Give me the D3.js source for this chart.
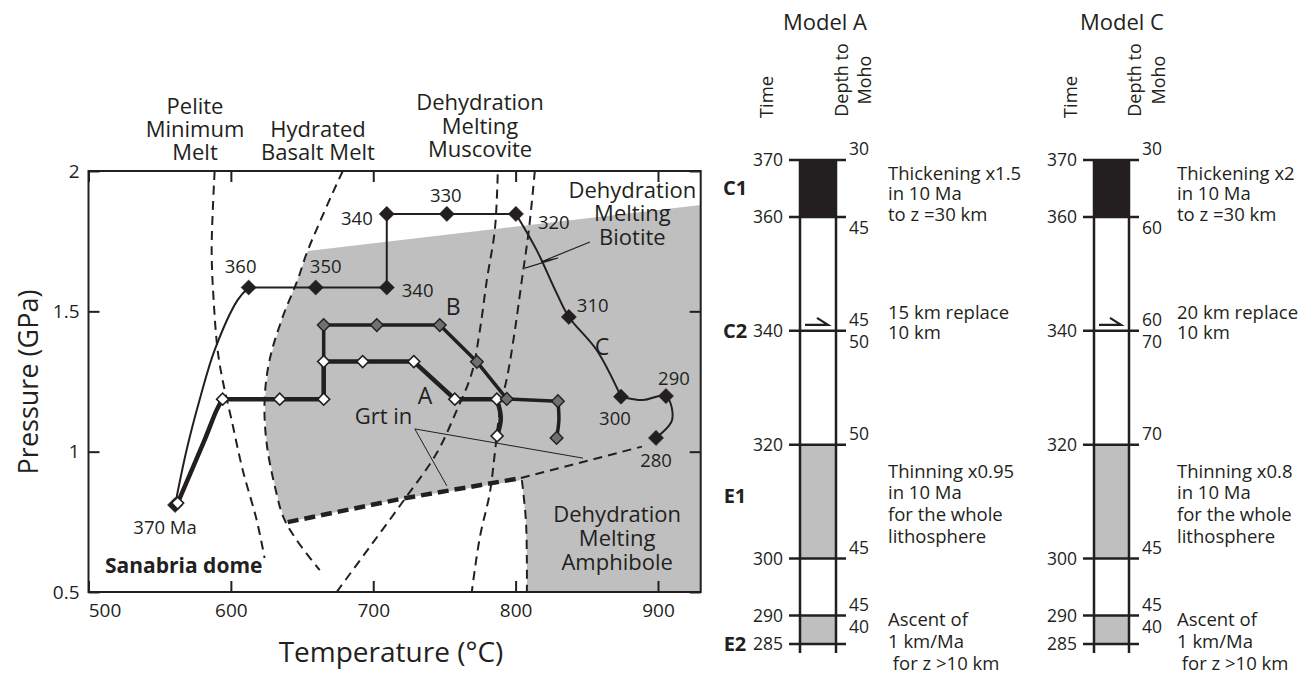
<!DOCTYPE html>
<html><head><meta charset="utf-8">
<script src="https://cdn.jsdelivr.net/npm/d3@7"></script>
<style>body{margin:0;background:#fff;} svg{display:block;font-family:'Open Sans',sans-serif;}</style>
</head><body><svg id="c" width="1316" height="677"></svg>
<script>
// ================= DATA =================
const tempTicks = [500, 600, 700, 800, 900];
const pressTicks = [0.5, 1, 1.5, 2];
const pressTickLabels = ["0.5", "1", "1.5", "2"];

// P-T path C (black diamonds): segments [T °C, P GPa]
const pathC_rise  = [[560.8,0.810],[568.9,1.006],[578.0,1.184],[588.6,1.362],[604.7,1.540],[612.5,1.585]];
const pathC_steps = [[612.5,1.585],[659.6,1.585],[709.5,1.585],[709.5,1.847],[751.7,1.847],[800.2,1.847]];
const pathC_fall  = [[800.2,1.847],[814.7,1.719],[828.8,1.565],[837.4,1.480],[856.9,1.362],[874.0,1.196]];
const pathC_end   = [[874.0,1.196],[889.5,1.184],[905.6,1.198],[909.9,1.113],[898.6,1.049]];
const markersC    = [[560.8,0.810],[612.5,1.585],[659.6,1.585],[709.5,1.585],[709.5,1.847],[751.7,1.847],[800.2,1.847],[837.4,1.480],[874.0,1.196],[905.6,1.198],[898.6,1.049]];
const agesC       = ["370 Ma","360","350","340","340","330","320","310","300","290","280"];

// P-T path A (white diamonds)
const pathA_rise  = [[562.6,0.817],[581.5,1.041],[590.0,1.148],[594.2,1.187]];
const pathA_steps = [[594.2,1.187],[634.3,1.187],[665.2,1.187],[665.2,1.321],[692.6,1.321],[728.5,1.321],[757.3,1.187],[786.8,1.187]];
const pathA_end   = [[786.8,1.187],[789.6,1.120],[787.0,1.056]];
const markersA    = [[562.6,0.817],[594.2,1.187],[634.3,1.187],[665.2,1.187],[665.2,1.321],[692.6,1.321],[728.5,1.321],[757.3,1.187],[786.8,1.187],[787.0,1.056]];

// P-T path B (grey diamonds)
const pathB_steps = [[665.2,1.187],[665.2,1.451],[702.5,1.451],[746.7,1.451],[772.8,1.320],[793.8,1.188],[829.7,1.180]];
const pathB_end   = [[829.7,1.180],[830.4,1.113],[828.8,1.049]];
const markersB    = [[665.2,1.451],[702.5,1.451],[746.7,1.451],[772.8,1.320],[793.8,1.188],[829.7,1.180],[828.8,1.049]];

// reaction curves (dashed)
const pelite    = [[588.6,2.0],[586.5,1.719],[587.9,1.540],[590.7,1.362],[594.2,1.255],[600.5,1.113],[608.3,0.935],[618.1,0.757],[623.7,0.621]];
const basalt    = [[678.6,2.0],[671.5,1.922],[661.0,1.801],[653.3,1.708],[646.9,1.612],[636.4,1.480],[627.2,1.327],[623.7,1.184],[625.1,1.031],[631.5,0.863],[637.1,0.764],[646.2,0.685],[662.4,0.578]];
const muscA     = [[674.3,0.5],[697.5,0.660],[722.1,0.831],[744.6,0.995],[758.7,1.148],[769.2,1.280],[774.9,1.433],[779.8,1.612],[785.4,1.790],[787.5,2.0]];
const muscB     = [[813.5,2.0],[809.3,1.790],[804.4,1.612],[799.5,1.433],[794.6,1.280],[789.0,1.148],[785.4,0.995],[781.9,0.853],[774.9,0.696],[769.2,0.5]];
const amphibole = [[804.4,0.899],[807.2,0.757],[807.9,0.614],[807.9,0.5]];
const grtThick  = [[639.9,0.749],[718.6,0.831],[803.7,0.906]];
const grtThin   = [[803.7,0.906],[888.7,1.018]];
const grtLeader = [[751.7,0.878],[729.2,1.081],[847.3,0.977]];
const biotiteBolt = [[852.2,1.747],[817.8,1.676],[829.7,1.690],[806.5,1.654]];
// melting field (grey)
const meltZone = [[654.0,1.715],[930,1.879],[930,0.5],[807.9,0.5],[807.9,0.614],[807.2,0.757],[804.4,0.899],[718.6,0.831],[639.9,0.749],[637.1,0.764],[631.5,0.863],[625.1,1.031],[623.7,1.184],[627.2,1.327],[636.4,1.480],[646.9,1.612]];

// Models (right panels)
const timeTicks = [370, 360, 340, 320, 300, 290, 285];
const blackStages = [[370, 360]];
const greyStages = [[320, 300], [290, 285]];
const phaseNames = ["C1", "C2", "E1", "E2"];
const phaseTimes = [365, 340, 311, 285];
const depthA = [[370,"30",-1],[360,"45",1],[340,"45",-1],[340,"50",1],[320,"50",-1],[300,"45",-1],[290,"45",-1],[290,"40",1]];
const depthC = [[370,"30",-1],[360,"60",1],[340,"60",-1],[340,"70",1],[320,"70",-1],[300,"45",-1],[290,"45",-1],[290,"40",1]];
const noteTimes = [366.5, 342.0, 314.2, 288.1];
const notesA = [["Thickening x1.5","in 10 Ma","to z =30 km"],["15 km replace","10 km"],["Thinning x0.95","in 10 Ma","for the whole","lithosphere"],["Ascent of","1 km/Ma"," for z >10 km"]];
const notesC = [["Thickening x2","in 10 Ma","to z =30 km"],["20 km replace","10 km"],["Thinning x0.8","in 10 Ma","for the whole","lithosphere"],["Ascent of","1 km/Ma"," for z >10 km"]];
const replaceTime = 340;

// ================= DRAW =================
const INK = "#231f20";
const svg = d3.select("#c");
const x = d3.scaleLinear().domain([500, 930]).range([88.5, 700.7]);
const y = d3.scaleLinear().domain([0.5, 2]).range([592, 171]);
const line = d3.line().x(d => x(d[0])).y(d => y(d[1]));
const curve = d3.line().x(d => x(d[0])).y(d => y(d[1])).curve(d3.curveCatmullRom.alpha(0.5));

const plot = svg.append("g");
plot.append("defs").append("clipPath").attr("id", "clip")
  .append("rect").attr("x", x(500)).attr("y", y(2)).attr("width", x(930) - x(500)).attr("height", y(0.5) - y(2));
const inner = plot.append("g").attr("clip-path", "url(#clip)");

// grey field
inner.append("path").attr("d", line(meltZone) + "Z").attr("fill", "#bfbfbf");

// dashed reaction curves
[pelite, basalt, muscA, muscB, amphibole].forEach(c =>
  inner.append("path").attr("d", curve(c)).attr("fill", "none").attr("stroke", INK)
    .attr("stroke-width", 2).attr("stroke-dasharray", "9,6"));
inner.append("path").attr("d", line(grtThick)).attr("fill", "none").attr("stroke", INK)
  .attr("stroke-width", 4.5).attr("stroke-dasharray", "11,6");
inner.append("path").attr("d", line(grtThin)).attr("fill", "none").attr("stroke", INK)
  .attr("stroke-width", 2).attr("stroke-dasharray", "9,6");
inner.append("path").attr("d", line(grtLeader)).attr("fill", "none").attr("stroke", INK).attr("stroke-width", 1);
inner.append("path").attr("d", line(biotiteBolt)).attr("fill", "none").attr("stroke", INK).attr("stroke-width", 1.2);

// P-T paths
function drawPath(segs, w) {
  segs.forEach(s => inner.append("path").attr("d", s.length > 2 ? curve(s) : line(s))
    .attr("fill", "none").attr("stroke", INK).attr("stroke-width", w).attr("stroke-linejoin", "round"));
}
drawPath([pathC_rise, pathC_fall, pathC_end], 2);
inner.append("path").attr("d", line(pathC_steps)).attr("fill", "none").attr("stroke", INK).attr("stroke-width", 2);
drawPath([pathB_end], 3.5);
inner.append("path").attr("d", line(pathB_steps)).attr("fill", "none").attr("stroke", INK).attr("stroke-width", 3.5).attr("stroke-linejoin", "round");
drawPath([pathA_rise, pathA_end], 4.5);
inner.append("path").attr("d", line(pathA_steps)).attr("fill", "none").attr("stroke", INK).attr("stroke-width", 4.5).attr("stroke-linejoin", "round");

// markers
const sym = s => d3.symbol(d3.symbolSquare, s)();
function markers(data, size, fill, sw) {
  inner.selectAll(null).data(data).enter().append("path")
    .attr("d", sym(size))
    .attr("transform", d => `translate(${x(d[0])},${y(d[1])}) rotate(45)`)
    .attr("fill", fill).attr("stroke", INK).attr("stroke-width", sw);
}
markers(markersC, 115, INK, 0.5);
markers(markersA, 72, "#fff", 1.6);
markers(markersB, 80, "#707070", 1.4);

// age labels for C (placement offsets, px)
const ageOffsets = [[-10,29,"middle"],[-8,-14,"middle"],[10,-14,"middle"],[15,10,"start"],[-14,11,"end"],[-1,-12,"middle"],[22,15,"start"],[8,-5,"start"],[-6,28,"middle"],[8,-11,"middle"],[0,29,"middle"]];
plot.selectAll(null).data(markersC).enter().append("text")
  .attr("x", (d, i) => x(d[0]) + ageOffsets[i][0])
  .attr("y", (d, i) => y(d[1]) + ageOffsets[i][1])
  .attr("text-anchor", (d, i) => ageOffsets[i][2])
  .attr("font-size", 18.5).attr("fill", INK)
  .text((d, i) => agesC[i]);

// text helper
function block(g, px, py, lines, size, gap, anchor, weight) {
  const t = g.append("text").attr("font-size", size).attr("fill", INK)
    .attr("text-anchor", anchor || "middle").attr("font-weight", weight || "normal");
  lines.forEach((l, i) => t.append("tspan").attr("x", px).attr("y", py + i * gap).text(l));
  return t;
}
block(plot, x(882), y(1.904), ["Dehydration", "Melting", "Biotite"], 22, 23.5);
block(plot, x(871.3), y(0.750), ["Dehydration", "Melting", "Amphibole"], 22, 24);
block(plot, x(707.2), y(1.099), ["Grt in"], 22, 0);
block(plot, x(511.6), y(0.568), ["Sanabria dome"], 21, 0, "start", "bold");
block(plot, x(736.4), y(1.170), ["A"], 23, 0);
block(plot, x(756.1), y(1.487), ["B"], 23, 0);
block(plot, x(860.7), y(1.344), ["C"], 23, 0);

// curve names above frame
block(plot, x(574.8), 114, ["Pelite", "Minimum", "Melt"], 22, 23);
block(plot, x(661.2), 137, ["Hydrated", "Basalt Melt"], 22, 23);
block(plot, x(775), 110, ["Dehydration", "Melting", "Muscovite"], 22, 23.5);

// axes
const ax = plot.append("g");
const bottom = ax.append("g").attr("transform", `translate(0,${y(0.5)})`)
  .call(d3.axisBottom(x).tickValues(tempTicks).tickSize(-11).tickPadding(12));
bottom.selectAll("text").attr("font-size", 19).attr("fill", INK).attr("font-family", "'Open Sans',sans-serif")
  .attr("dx", d => d === 500 ? 16 : 0);
ax.append("g").attr("transform", `translate(0,${y(2)})`)
  .call(d3.axisTop(x).tickValues(tempTicks).tickSize(-11).tickFormat(""));
const left = ax.append("g").attr("transform", `translate(${x(500)},0)`)
  .call(d3.axisLeft(y).tickValues(pressTicks).tickSize(-11).tickPadding(9).tickFormat((d, i) => pressTickLabels[i]));
left.selectAll("text").attr("font-size", 19).attr("fill", INK).attr("font-family", "'Open Sans',sans-serif");
ax.append("g").attr("transform", `translate(${x(930)},0)`)
  .call(d3.axisRight(y).tickValues(pressTicks).tickSize(-11).tickFormat(""));
ax.selectAll(".domain").remove();
ax.selectAll(".tick line").attr("stroke", INK).attr("stroke-width", 2);
plot.append("rect").attr("x", x(500)).attr("y", y(2)).attr("width", x(930) - x(500)).attr("height", y(0.5) - y(2))
  .attr("fill", "none").attr("stroke", INK).attr("stroke-width", 2);

plot.append("text").attr("x", 391).attr("y", 662).attr("text-anchor", "middle")
  .attr("font-size", 28).attr("fill", INK).text("Temperature (°C)");
plot.append("text").attr("transform", "translate(38,382) rotate(-90)").attr("text-anchor", "middle")
  .attr("font-size", 27).attr("fill", INK).text("Pressure (GPa)");

// ================= MODELS =================
const ys = d3.scaleLinear().domain([370, 285]).range([160, 644]);
function model(L, W, depth, notes, noteX, title, titleX, timeX, depthX1, depthX2) {
  const g = svg.append("g");
  const R = L + W;
  blackStages.forEach(s => g.append("rect").attr("x", L).attr("y", ys(s[0])).attr("width", W)
    .attr("height", ys(s[1]) - ys(s[0])).attr("fill", INK));
  greyStages.forEach(s => g.append("rect").attr("x", L).attr("y", ys(s[0])).attr("width", W)
    .attr("height", ys(s[1]) - ys(s[0])).attr("fill", "#bfbfbf"));
  [L, R].forEach(px => g.append("line").attr("x1", px).attr("x2", px).attr("y1", ys(370)).attr("y2", ys(285) + 9)
    .attr("stroke", INK).attr("stroke-width", 2.5));
  timeTicks.forEach(t => {
    g.append("line").attr("x1", L - 11).attr("x2", R + 10).attr("y1", ys(t)).attr("y2", ys(t))
      .attr("stroke", INK).attr("stroke-width", 2.5);
    g.append("text").attr("x", L - 17).attr("y", ys(t)).attr("dy", "0.35em").attr("text-anchor", "end")
      .attr("font-size", 17.5).attr("fill", INK).text(t);
  });
  depth.forEach(d => g.append("text").attr("x", R + 13).attr("y", ys(d[0]) + (d[2] < 0 ? -11 : 11))
    .attr("dy", "0.35em").attr("font-size", 17.5).attr("fill", INK).text(d[1]));
  const gaps = [20.5, 19.5, 21.7, 22];
  notes.forEach((n, i) => block(g, noteX, ys(noteTimes[i]), n, 18.5, gaps[i], "start"));
  // harpoon
  const hy = ys(replaceTime) - 6;
  g.append("path").attr("d", `M${L + 5},${hy}H${R - 8}L${R - 19},${hy - 7}`)
    .attr("fill", "none").attr("stroke", INK).attr("stroke-width", 2.2);
  g.append("text").attr("x", titleX).attr("y", 30).attr("text-anchor", "middle")
    .attr("font-size", 22).attr("fill", INK).text(title);
  g.append("text").attr("transform", `translate(${timeX},97) rotate(-90)`).attr("text-anchor", "middle")
    .attr("font-size", 18.5).attr("fill", INK).text("Time");
  g.append("text").attr("transform", `translate(${depthX1},80) rotate(-90)`).attr("text-anchor", "middle")
    .attr("font-size", 18).attr("fill", INK).text("Depth to");
  g.append("text").attr("transform", `translate(${depthX2},80) rotate(-90)`).attr("text-anchor", "middle")
    .attr("font-size", 18).attr("fill", INK).text("Moho");
  return g;
}
const gA = model(800, 36, depthA, notesA, 888, "Model A", 825, 773, 848, 871);
model(1094, 35, depthC, notesC, 1177, "Model C", 1122, 1077, 1141, 1165);
phaseNames.forEach((p, i) => gA.append("text").attr("x", 735).attr("y", ys(phaseTimes[i])).attr("dy", "0.35em")
  .attr("text-anchor", "middle").attr("font-size", 20).attr("font-weight", "bold").attr("fill", INK).text(p));
</script></body></html>
